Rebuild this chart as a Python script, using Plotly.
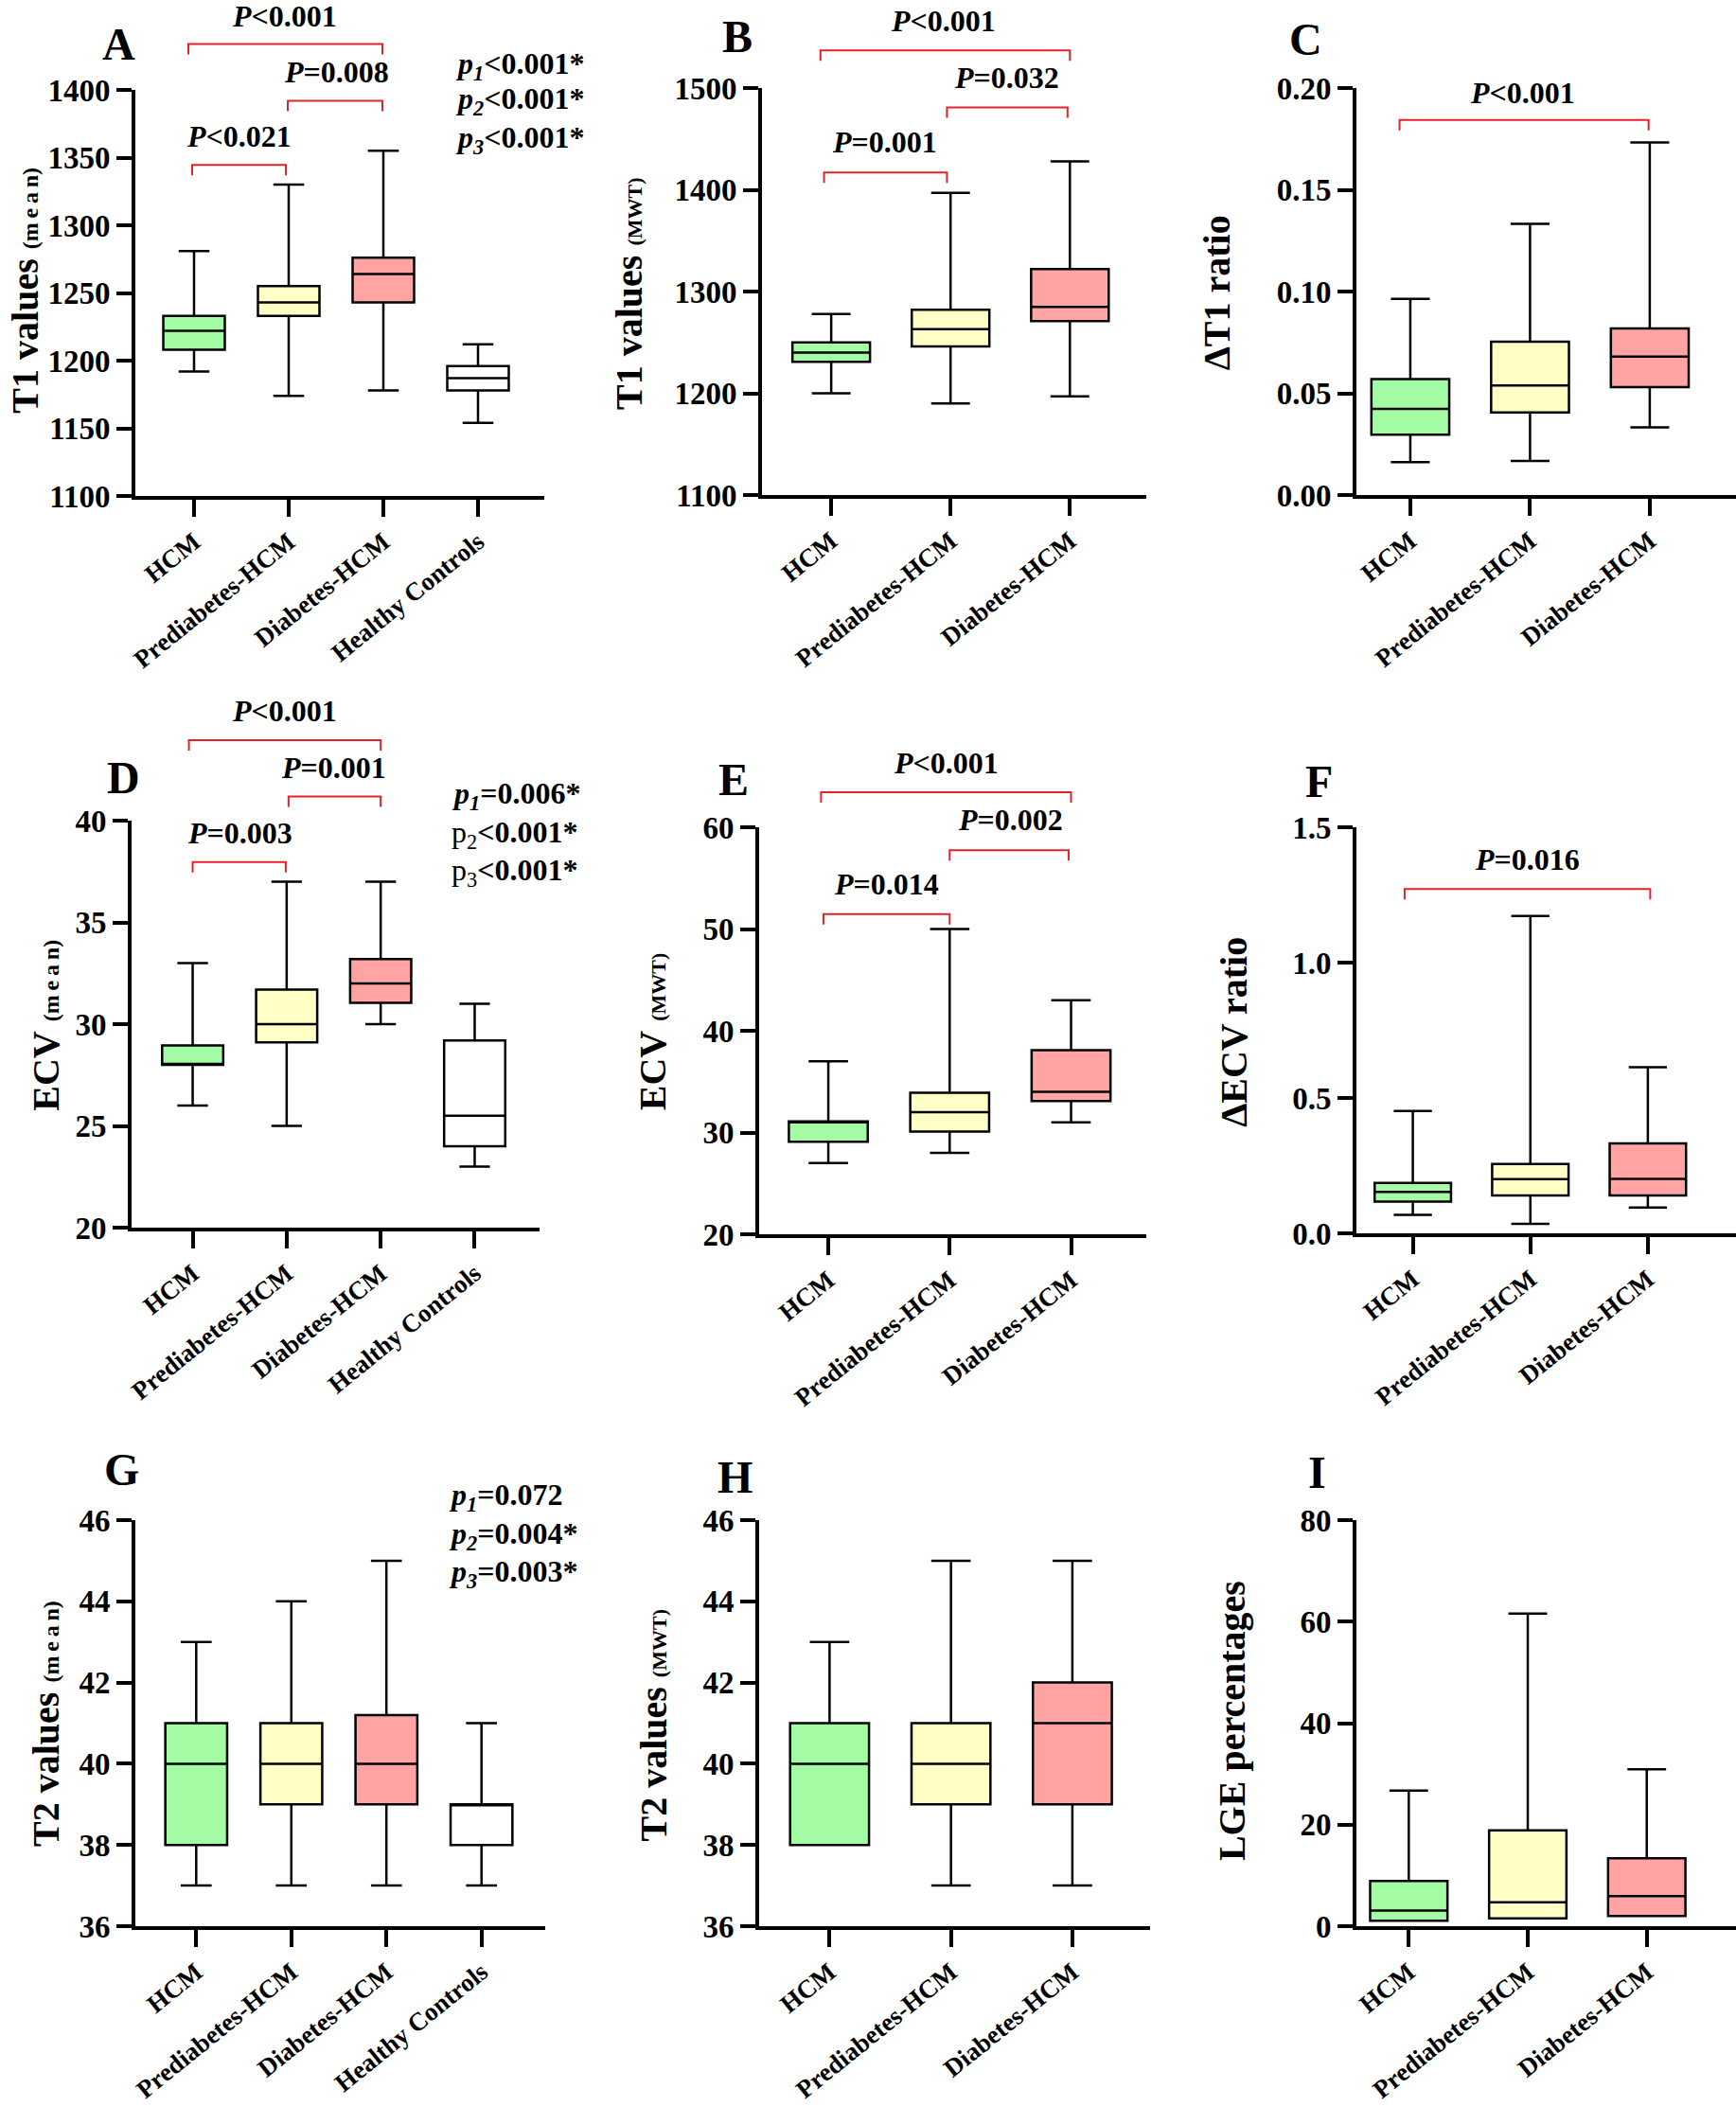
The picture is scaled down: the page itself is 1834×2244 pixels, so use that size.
import plotly.graph_objects as go

W, H = 1834, 2244
FONT = "Liberation Serif, Times New Roman, serif"
RED = "#E3222B"

groups4 = ["HCM", "Prediabetes-HCM", "Diabetes-HCM", "Healthy Controls"]
groups3 = groups4[:3]
fills = ["#A3FBA3", "#FFFFC6", "#FFA3A3", "#FFFFFF"]

# A - T1 values (mean)
t1_mean_low = [1192, 1174, 1178, 1154]
t1_mean_q1 = [1208, 1233, 1243, 1178]
t1_mean_med = [1222, 1243, 1264, 1187]
t1_mean_q3 = [1233, 1255, 1276, 1196]
t1_mean_high = [1281, 1330, 1355, 1212]

# B - T1 values (MWT)
t1_mwt_low = [1200, 1190, 1197]
t1_mwt_q1 = [1231, 1246, 1271]
t1_mwt_med = [1240, 1263, 1285]
t1_mwt_q3 = [1250, 1282, 1322]
t1_mwt_high = [1278, 1397, 1428]

# C - delta T1 ratio
dt1_low = [0.0162, 0.0167, 0.0333]
dt1_q1 = [0.0296, 0.0406, 0.053]
dt1_med = [0.0423, 0.0538, 0.068]
dt1_q3 = [0.057, 0.0754, 0.0819]
dt1_high = [0.0964, 0.1332, 0.1733]

# D - ECV (mean)
ecv_mean_low = [26, 25, 30, 23]
ecv_mean_q1 = [28, 29.1, 31.05, 24]
ecv_mean_med = [28.05, 30, 32, 25.5]
ecv_mean_q3 = [28.95, 31.7, 33.2, 29.2]
ecv_mean_high = [33, 37, 37, 31]

# E - ECV (MWT)
ecv_mwt_low = [27, 28, 31]
ecv_mwt_q1 = [29.1, 30.1, 33.1]
ecv_mwt_med = [31.0, 32, 34]
ecv_mwt_q3 = [31.1, 33.9, 38.1]
ecv_mwt_high = [37, 50, 43]

# F - delta ECV ratio
decv_low = [0.068, 0.035, 0.095]
decv_q1 = [0.117, 0.14, 0.14]
decv_med = [0.153, 0.2, 0.201]
decv_q3 = [0.186, 0.256, 0.332]
decv_high = [0.452, 1.172, 0.614]

# G - T2 values (mean)
t2_mean_low = [37, 37, 37, 37]
t2_mean_q1 = [38, 39, 39, 38]
t2_mean_med = [40, 40, 40, 39]
t2_mean_q3 = [41, 41, 41.2, 39]
t2_mean_high = [43, 44, 45, 41]

# H - T2 values (MWT)
t2_mwt_low = [38, 37, 37]
t2_mwt_q1 = [38, 39, 39]
t2_mwt_med = [40, 40, 41]
t2_mwt_q3 = [41, 41, 42]
t2_mwt_high = [43, 45, 45]

# I - LGE percentages
lge_low = [1.06, 1.56, 2.0]
lge_q1 = [1.06, 1.56, 2.0]
lge_med = [3.1, 4.7, 5.9]
lge_q3 = [8.9, 18.9, 13.4]
lge_high = [26.7, 61.6, 30.9]

MEAN = "(m\u2009e\u2009a\u2009n)"


def sub(t, s=24):
    return "<b>%s</b> <span style='font-size:%dpx'><b>%s</b></span>" % (t[0], s, t[1])


panels = [
    dict(letter="A", box=(143, 95, 575, 524), xr=(-0.62, 3.70), cats=groups4,
         stats=(t1_mean_low, t1_mean_q1, t1_mean_med, t1_mean_q3, t1_mean_high),
         yrange=(1100, 1400), dtick=50, fmt="d",
         title=sub(("T1 values", MEAN)), title_at=(-1.78, 1252), letter_at=(-0.80, 1434),
         brackets=[(-0.02, 0.97, 1344.5, "<b><i>P</i>&lt;0.021</b>", 0.47, 1366),
                   (0.99, 1.99, 1392, "<b><i>P</i>=0.008</b>", 1.5, 1413),
                   (-0.06, 1.99, 1434, "<b><i>P</i>&lt;0.001</b>", 0.95, 1454.5)],
         notes=(2.74, [1418, 1392, 1363],
                ["<b><i>p<sub>1</sub></i>&lt;0.001*</b>",
                 "<b><i>p<sub>2</sub></i>&lt;0.001*</b>",
                 "<b><i>p<sub>3</sub></i>&lt;0.001*</b>"])),
    dict(letter="B", box=(805, 93, 1211, 523), xr=(-0.58, 2.64), cats=groups3,
         stats=(t1_mwt_low, t1_mwt_q1, t1_mwt_med, t1_mwt_q3, t1_mwt_high),
         yrange=(1100, 1500), dtick=100, fmt="d",
         title=sub(("T1 values", "(MWT)"), 22), title_at=(-1.7, 1298), letter_at=(-0.79, 1551),
         brackets=[(-0.06, 0.97, 1417, "<b><i>P</i>=0.001</b>", 0.45, 1447),
                   (0.97, 1.98, 1481, "<b><i>P</i>=0.032</b>", 1.47, 1510),
                   (-0.09, 2.0, 1537, "<b><i>P</i>&lt;0.001</b>", 0.94, 1566)]),
    dict(letter="C", box=(1433, 93, 1834, 523), xr=(-0.45, 2.72), cats=groups3,
         stats=(dt1_low, dt1_q1, dt1_med, dt1_q3, dt1_high),
         yrange=(0, 0.2), dtick=0.05, fmt=".2f",
         title="<b>ΔT1 ratio</b>", title_at=(-1.62, 0.0994), letter_at=(-0.87, 0.2239),
         brackets=[(-0.09, 1.99, 0.1843, "<b><i>P</i>&lt;0.001</b>", 0.94, 0.1977)]),
    dict(letter="D", box=(139, 867, 570, 1297), xr=(-0.65, 3.69), cats=groups4,
         stats=(ecv_mean_low, ecv_mean_q1, ecv_mean_med, ecv_mean_q3, ecv_mean_high),
         yrange=(20, 40), dtick=5, fmt="d",
         title=sub(("ECV", MEAN)), title_at=(-1.57, 29.95), letter_at=(-0.74, 42.1),
         brackets=[(0.0, 0.99, 37.97, "<b><i>P</i>=0.003</b>", 0.5, 39.4),
                   (1.02, 2.0, 41.19, "<b><i>P</i>=0.001</b>", 1.5, 42.6),
                   (-0.04, 2.0, 43.95, "<b><i>P</i>&lt;0.001</b>", 0.98, 45.4)],
         notes=(2.73, [41.24, 39.34, 37.45],
                ["<b><i>p<sub>1</sub></i>=0.006*</b>",
                 "p<sub>2</sub><b>&lt;0.001*</b>",
                 "p<sub>3</sub><b>&lt;0.001*</b>"])),
    dict(letter="E", box=(802, 874, 1211, 1304), xr=(-0.57, 2.62), cats=groups3,
         stats=(ecv_mwt_low, ecv_mwt_q1, ecv_mwt_med, ecv_mwt_q3, ecv_mwt_high),
         yrange=(20, 60), dtick=10, fmt="d",
         title=sub(("ECV", "(MWT)"), 22), title_at=(-1.45, 39.9), letter_at=(-0.78, 64.7),
         brackets=[(-0.04, 1.0, 51.47, "<b><i>P</i>=0.014</b>", 0.48, 54.4),
                   (1.0, 1.98, 57.75, "<b><i>P</i>=0.002</b>", 1.5, 60.7),
                   (-0.06, 2.0, 63.44, "<b><i>P</i>&lt;0.001</b>", 0.97, 66.3)]),
    dict(letter="F", box=(1433, 874, 1834, 1303), xr=(-0.48, 2.75), cats=groups3,
         stats=(decv_low, decv_q1, decv_med, decv_q3, decv_high),
         yrange=(0, 1.5), dtick=0.5, fmt=".1f",
         title="<b>ΔECV ratio</b>", title_at=(-1.52, 0.745), letter_at=(-0.8, 1.671),
         brackets=[(-0.07, 2.02, 1.272, "<b><i>P</i>=0.016</b>", 0.97, 1.38)]),
    dict(letter="G", box=(143, 1606, 576, 2035), xr=(-0.64, 3.67), cats=groups4,
         stats=(t2_mean_low, t2_mean_q1, t2_mean_med, t2_mean_q3, t2_mean_high),
         yrange=(36, 46), dtick=2, fmt="d",
         title=sub(("T2 values", MEAN)), title_at=(-1.58, 40.98), letter_at=(-0.78, 47.25),
         brackets=[],
         notes=(2.63, [46.58, 45.61, 44.68],
                ["<b><i>p<sub>1</sub></i>=0.072</b>",
                 "<b><i>p<sub>2</sub></i>=0.004*</b>",
                 "<b><i>p<sub>3</sub></i>=0.003*</b>"])),
    dict(letter="H", box=(802, 1606, 1215, 2035), xr=(-0.58, 2.64), cats=groups3,
         stats=(t2_mwt_low, t2_mwt_q1, t2_mwt_med, t2_mwt_q3, t2_mwt_high),
         yrange=(36, 46), dtick=2, fmt="d",
         title=sub(("T2 values", "(MWT)"), 22), title_at=(-1.45, 40.94), letter_at=(-0.78, 47.07),
         brackets=[]),
    dict(letter="I", box=(1433, 1606, 1834, 2035), xr=(-0.44, 2.75), cats=groups3,
         stats=(lge_low, lge_q1, lge_med, lge_q3, lge_high),
         yrange=(0, 80), dtick=20, fmt="d",
         title="<b>LGE percentages</b>", title_at=(-1.48, 40.5), letter_at=(-0.77, 89.4),
         brackets=[]),
]


def paper_x(p, v):
    left, _, right, _ = p["box"]
    r0, r1 = p["xr"]
    return (left + (v - r0) / (r1 - r0) * (right - left)) / W


def paper_y(p, v):
    _, top, _, bottom = p["box"]
    r0, r1 = p["yrange"]
    return 1 - (bottom - (v - r0) / (r1 - r0) * (bottom - top)) / H


def note(text, x, y, size, xanchor="center", angle=0):
    return dict(text=text, x=x, y=y, xref="paper", yref="paper", showarrow=False,
                xanchor=xanchor, yanchor="middle", textangle=angle,
                font=dict(size=size, family=FONT, color="black"))


fig = go.Figure()
annotations = []
shapes = []
TIP = 11 / H

for i, p in enumerate(panels, start=1):
    low, q1, med, q3, high = p["stats"]
    for j, cat in enumerate(p["cats"]):
        fig.add_trace(go.Box(x=[cat], lowerfence=[low[j]], q1=[q1[j]], median=[med[j]],
                             q3=[q3[j]], upperfence=[high[j]], fillcolor=fills[j],
                             line=dict(color="black", width=2.5), whiskerwidth=0.5,
                             width=0.65, boxpoints=False, hoverinfo="skip",
                             showlegend=False, xaxis="x%d" % i, yaxis="y%d" % i))

    left, top, right, bottom = p["box"]
    r0, r1 = p["yrange"]
    n_ticks = int(round((r1 - r0) / p["dtick"])) + 1
    tickvals = [r0 + k * p["dtick"] for k in range(n_ticks)]
    if p["fmt"] == "d":
        ticktext = ["%d" % v for v in tickvals]
    else:
        ticktext = [format(v, p["fmt"]) for v in tickvals]

    fig.layout["xaxis%d" % i] = dict(
        domain=[left / W, right / W], anchor="y%d" % i, type="category",
        categoryorder="array", categoryarray=p["cats"], range=list(p["xr"]),
        automargin=False,
        showline=True, linewidth=4, linecolor="black", ticks="outside", ticklen=18,
        tickwidth=3.5, tickcolor="black", tickangle=-39, showgrid=False, zeroline=False,
        tickfont=dict(family=FONT, size=27, color="black", weight="bold"))
    fig.layout["yaxis%d" % i] = dict(
        domain=[1 - bottom / H, 1 - top / H], anchor="x%d" % i, range=[r0, r1],
        tickvals=tickvals, ticktext=ticktext, automargin=False,
        showline=True, linewidth=4, linecolor="black", ticks="outside", ticklen=16,
        tickwidth=3.5, tickcolor="black", showgrid=False, zeroline=False,
        tickfont=dict(family=FONT, size=33, color="black", weight="bold"))

    # panel letter and axis title
    lx, ly = p["letter_at"]
    annotations.append(note("<b>%s</b>" % p["letter"], paper_x(p, lx), paper_y(p, ly), 48))
    tx, ty = p["title_at"]
    annotations.append(note(p["title"], paper_x(p, tx), paper_y(p, ty), 40, angle=-90))

    # significance brackets
    for x0, x1, yb, label, lxp, lyp in p["brackets"]:
        px0, px1, py = paper_x(p, x0), paper_x(p, x1), paper_y(p, yb)
        shapes.append(dict(type="path", xref="paper", yref="paper",
                           path="M %f,%f L %f,%f L %f,%f L %f,%f" % (
                               px0, py - TIP, px0, py, px1, py, px1, py - TIP),
                           line=dict(color=RED, width=2)))
        annotations.append(note(label, paper_x(p, lxp), paper_y(p, lyp), 32))

    # overall p-values
    if "notes" in p:
        nx, nys, texts = p["notes"]
        for ny, t in zip(nys, texts):
            annotations.append(note(t, paper_x(p, nx), paper_y(p, ny), 32, xanchor="left"))

fig.update_layout(width=W, height=H, margin=dict(l=0, r=0, t=0, b=0, autoexpand=False),
                  paper_bgcolor="white", plot_bgcolor="white", showlegend=False,
                  boxmode="overlay", font=dict(family=FONT, color="black"),
                  annotations=annotations, shapes=shapes)

fig.write_html("out.html", config={"displayModeBar": False},
               post_script="document.body.style.margin = '0';")
